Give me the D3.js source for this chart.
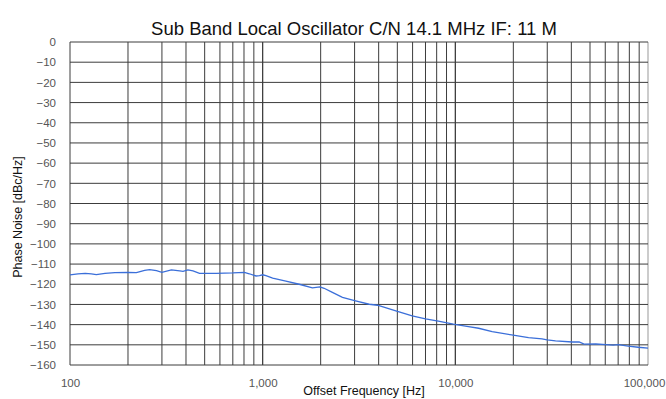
<!DOCTYPE html>
<html>
<head>
<meta charset="utf-8">
<script src="https://cdn.jsdelivr.net/npm/d3@7"></script>
<style>
  body { margin: 0; background: #fff; }
  svg text { font-family: "Liberation Sans", Arial, sans-serif; }
  .tick text { fill: #555; font-size: 11.5px; }
</style>
</head>
<body>
<div id="chart"></div>
<script>
// offset frequency [Hz]
const freq = [100, 110, 120, 129, 137, 152, 171, 200, 221, 244, 259, 281, 300, 336, 371, 386, 409, 435, 470,
  574, 700, 804, 852, 924, 963, 1000, 1040, 1127, 1320, 1547, 1812, 1982, 2085, 2300, 2595, 2999, 3571, 3944,
  4911, 5971, 7003, 8162, 9768, 11700, 13210, 15530, 19600, 23980, 28180, 29950, 33120, 40500, 43900, 46600,
  53600, 60500, 66000, 70000, 79000, 89000, 100000];
// phase noise [dBc/Hz]
const noise = [-115.4, -114.9, -114.6, -114.9, -115.2, -114.6, -114.2, -114.1, -114.2, -113.1, -112.8, -113.3, -114.1,
  -112.9, -113.4, -113.6, -112.9, -113.4, -114.6, -114.6, -114.4, -114.1, -114.8, -115.9, -115.7, -115.3, -115.7,
  -117, -118.4, -120, -121.8, -121.3, -122, -124, -126.5, -128.1, -129.9, -130.4, -133.2, -135.7, -137.2, -138.3,
  -139.8, -141, -141.8, -143.5, -145.1, -146.4, -147.1, -147.6, -148.1, -148.6, -148.6, -149.7, -149.6, -149.9,
  -150.2, -149.9, -150.6, -151.2, -151.6];
const xTicks = [100, 1000, 10000, 100000];
const yTicks = [0, -10, -20, -30, -40, -50, -60, -70, -80, -90, -100, -110, -120, -130, -140, -150, -160];

let margin = {top: 42, right: 18, bottom: 34, left: 70},
    width = 666 - margin.left - margin.right,
    height = 399 - margin.top - margin.bottom;

let svg = d3.select("#chart")
  .append("svg")
    .attr("width", 666)
    .attr("height", 399);

let g = svg.append("g")
    .attr("transform", "translate(" + margin.left + "," + margin.top + ")");

let x = d3.scaleLog()
  .domain([100, 100000])
  .range([0, width]);

let y = d3.scaleLinear()
  .domain([-160, 0])
  .range([height, 0]);

// grid
let minor = [];
for (let d = 100; d < 100000; d *= 10) {
  for (let k = 1; k <= 10; k++) minor.push(d * k);
}
g.append("g")
  .selectAll("line")
  .data(minor)
  .enter()
  .append("line")
    .attr("x1", d => x(d)).attr("x2", d => x(d))
    .attr("y1", 0).attr("y2", height)
    .attr("stroke", d => d === 100000 ? "#999" : "#3c3c3c")
    .attr("stroke-width", 1);

g.append("g")
  .selectAll("line")
  .data(yTicks)
  .enter()
  .append("line")
    .attr("x1", 0).attr("x2", width)
    .attr("y1", d => y(d)).attr("y2", d => y(d))
    .attr("stroke", "#3c3c3c")
    .attr("stroke-width", 1);

// axes (labels only)
let yAxis = d3.axisLeft(y).tickValues(yTicks).tickSize(0).tickPadding(14);
g.append("g")
  .call(yAxis)
  .call(s => s.select(".domain").remove());

let xAxis = d3.axisBottom(x).tickValues(xTicks).tickSize(0).tickPadding(14)
  .tickFormat(d3.format(","));
g.append("g")
  .attr("transform", "translate(0," + height + ")")
  .call(xAxis)
  .call(s => s.select(".domain").remove())
  .selectAll(".tick text")
    .attr("dx", d => d === 100000 ? -4 : 0);

// trace
let line = d3.line()
  .x((d, i) => x(freq[i]))
  .y(d => y(d));

g.append("path")
  .datum(noise)
  .attr("fill", "none")
  .attr("stroke", "#3b6fd9")
  .attr("stroke-width", 1.3)
  .attr("d", line);

// titles
svg.append("text")
  .attr("x", 354)
  .attr("y", 35)
  .attr("text-anchor", "middle")
  .style("font-size", "18.5px")
  .style("fill", "#111")
  .text("Sub Band Local Oscillator C/N 14.1 MHz IF: 11 M");

svg.append("text")
  .attr("x", 364)
  .attr("y", 395)
  .attr("text-anchor", "middle")
  .style("font-size", "12.5px")
  .style("fill", "#111")
  .text("Offset Frequency [Hz]");

svg.append("text")
  .attr("transform", "translate(22,217) rotate(-90)")
  .attr("text-anchor", "middle")
  .style("font-size", "12.5px")
  .style("fill", "#111")
  .text("Phase Noise [dBc/Hz]");
</script>
</body>
</html>
